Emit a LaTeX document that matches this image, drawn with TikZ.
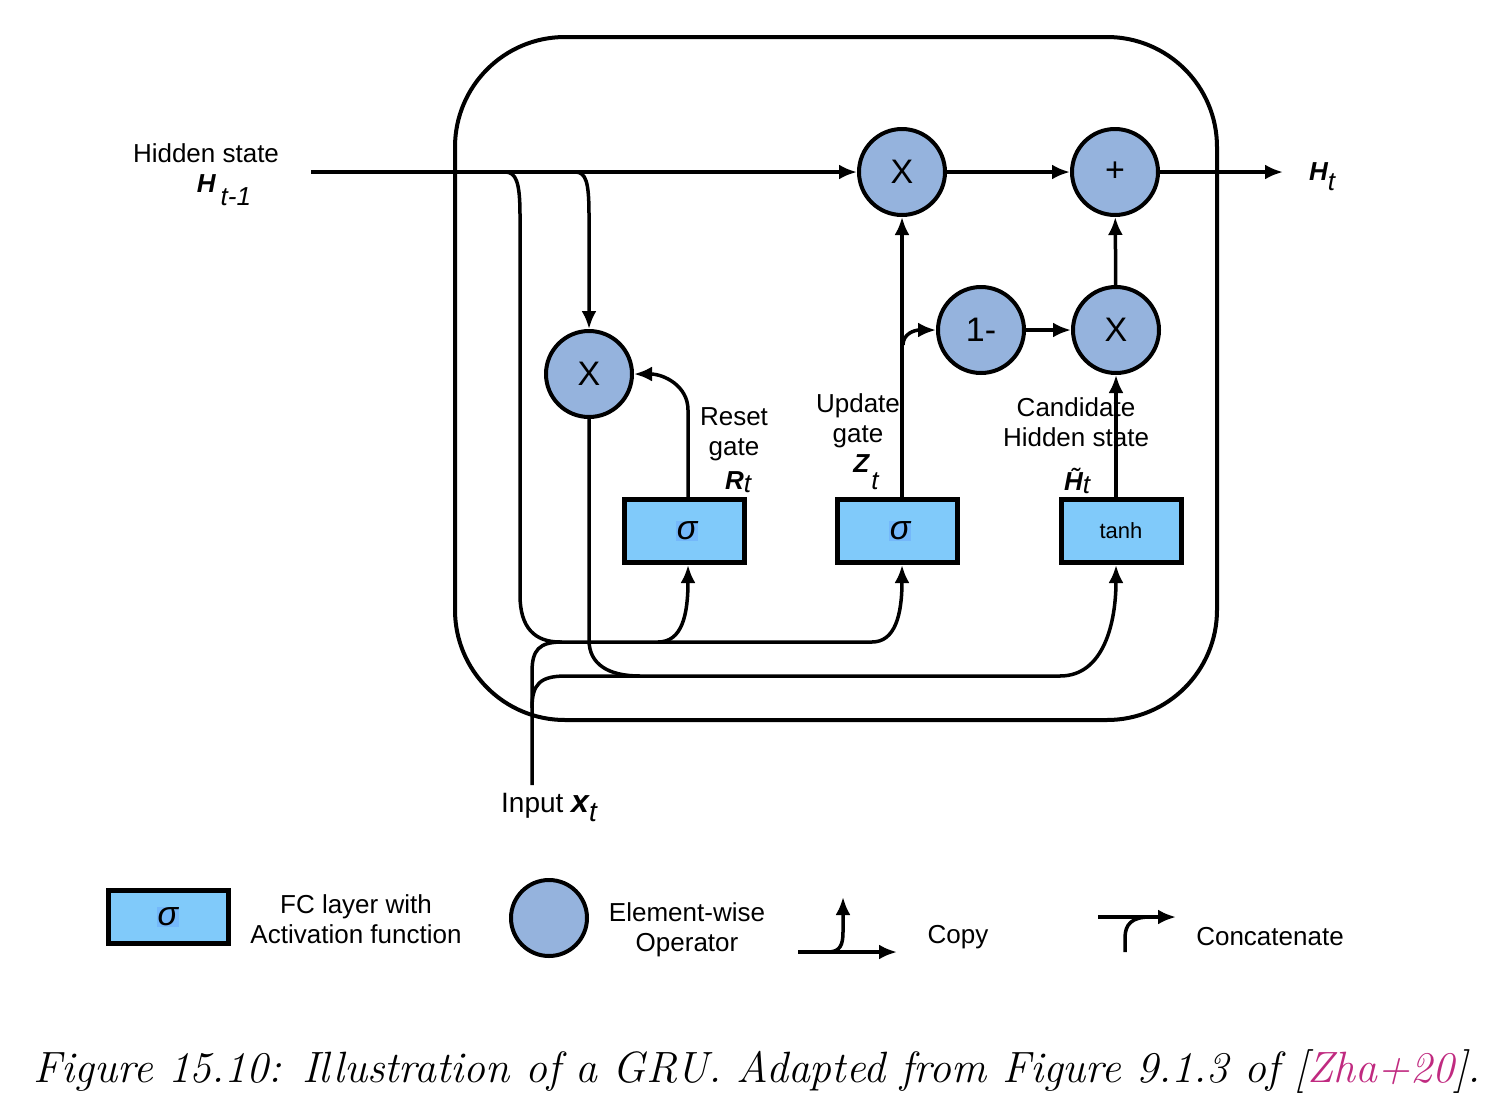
\documentclass[tikz,border=0pt]{standalone}
\usepackage{fontspec}
\newfontfamily\arialfont{Liberation Sans}
\usetikzlibrary{arrows.meta}
\definecolor{opblue}{RGB}{149,179,221}
\definecolor{fcblue}{RGB}{128,202,250}
\definecolor{sigblue}{RGB}{116,184,250}
\definecolor{citecol}{RGB}{192,42,128}
\newcommand{\lblfont}{\arialfont\fontsize{26}{30}\selectfont}
\newcommand{\opfont}{\arialfont\fontsize{34}{40}\selectfont}
\newcommand{\bvar}[1]{{\bfseries\itshape #1}}
\newcommand{\lowsub}[2]{\raisebox{-#1}{\itshape #2}}
\newcommand{\sigmark}{{\setlength{\fboxsep}{1pt}\colorbox{sigblue}{\itshape σ}}}

\begin{document}
\begin{tikzpicture}[x=1pt, y=-1pt,
        op/.style = {
            draw,
            circle,
            fill=opblue,
            line width=4pt,
            minimum size = #1,
            inner sep = 0pt,
            font=\opfont
        },
        op/.default = 86pt,
        fc/.style = {
            draw,
            rectangle,
            fill=fcblue,
            line width=5pt,
            minimum width = 120pt,
            minimum height = #1,
            inner sep = 0pt,
            font=\arialfont\fontsize{34}{38}\selectfont
        },
        fc/.default = 63pt,
        wire/.style = {line width=3.5pt},
        arr/.style = {wire, -{Latex[length=18pt, width=15pt]}},
        lbl/.style = {font=\lblfont, align=center, inner sep=0pt}
        ]
        \useasboundingbox (0,0) rectangle (1508,1114);
%
        \draw[line width=4pt, rounded corners=110pt] (455,37) rectangle (1217,720);
%
        \node[op] (mulH) at (902,172) {X};
        \node[op] (add)  at (1115,172) {+};
        \node[op] (mulR) at (589,374) {X};
        \node[op] (one)  at (981,330) {1-};
        \node[op] (mulZ) at (1116,330) {X};
%
        \node[fc] (gateR) at (684,531) {\hspace{6pt}\sigmark};
        \node[fc] (gateZ) at (897,531) {\hspace{6pt}\sigmark};
        \node[fc, font=\arialfont\fontsize{22}{26}\selectfont] (cand) at (1121,531) {tanh};
%
        \coordinate (hin)  at (311,172);
        \coordinate (hout) at (1283,172);
        \coordinate (xin)  at (532,785);
        \coordinate (cpyG) at (505,172);
        \coordinate (cpyR) at (575,172);
        \coordinate (tapR) at (658,642);
        \coordinate (tapZ) at (872,642);
        \coordinate (tapC) at (1060,676);
        \coordinate (tapU) at (903,345);
        \coordinate (inR)  at ([xshift=4pt]gateR.south);
        \coordinate (outR) at ([xshift=4pt]gateR.north);
%
        \node[lbl, anchor=south] (hidlbl) at (206,163) {Hidden state};
        \node[lbl] (hprev) at (224,190) {\bvar{H}\hspace{5pt}\lowsub{13pt}{t-1}};
        \node[lbl, anchor=west] (hnew) at (1309,177) {\bvar{H}\lowsub{10pt}{t}};
        \node[lbl, font=\arialfont\fontsize{28}{32}\selectfont] (xlbl) at (549,807)
            {Input {\fontsize{32}{36}\selectfont\bvar{x}}\lowsub{9pt}{t}};
%
        \node[lbl] (rlbl) at (734,434) {Reset\\gate};
        \node[lbl] (rvar) at (738,482) {\bvar{R}\lowsub{3pt}{t}};
        \node[lbl] (zlbl) at (858,421) {Update\\gate};
        \node[lbl] (zvar) at (866,472) {\bvar{Z}\hspace{2pt}\lowsub{17pt}{t}};
        \node[lbl] (clbl) at (1076,422) {Candidate\\Hidden state};
        \node[lbl] (cvar) at (1077,481) {\bvar{\~H}\lowsub{3pt}{t}};
%
% hidden state path
        \draw[arr] (hin) -- (mulH);
        \draw[arr] (mulH) -- (add);
        \draw[arr] (add) -- (hout);
%
% copies of H_{t-1}
        \draw[wire] (cpyG) .. controls (516,172) and (520,182) .. (520,215) -- (520,595)
                    .. controls (520,628) and (535,642) .. (560,642) -- (tapZ);
        \draw[arr] (cpyR) .. controls (586,172) and (589,182) .. (589,215) -- (mulR.north);
%
% input x_t
        \draw[wire] (xin) -- (532,672) .. controls (532,650) and (539,642) .. (562,642);
        \draw[wire] (532,708) .. controls (532,684) and (540,676) .. (566,676) -- (tapC);
%
% into the gates
        \draw[arr] (tapR) .. controls (682,642) and (688,615) .. (inR);
        \draw[arr] (tapZ) .. controls (895,642) and (902,615) .. (gateZ.south -| mulH);
        \draw[wire] (mulR.south) -- (589,640) .. controls (589,664) and (608,676) .. (640,676);
        \draw[arr] (tapC) .. controls (1104,676) and (1116,622) .. (cand.south -| mulZ);
%
% out of the gates
        \draw[arr] (outR) -- (688,410) .. controls (688,386) and (664,374) .. (mulR.east);
        \draw[arr] (gateZ.north -| mulH) -- (mulH.south);
        \draw[arr] (tapU) .. controls (903,334) and (914,330) .. (one.west);
        \draw[arr] (one) -- (mulZ);
        \draw[arr] (mulZ) -- (add);
        \draw[arr] (cand.north -| mulZ) -- (mulZ.south);
%
% legend
        \node[fc, minimum height=53pt] (legFC) at (168,917) {\sigmark};
        \node[lbl] (legFCtxt) at (356,919) {FC layer with\\Activation function};
        \node[op=76pt] (legOp) at (549,918) {};
        \node[lbl] (legOptxt) at (687,930) {Element-wise\\Operator};
%
        \coordinate (cpA) at (798,952);
        \coordinate (cpB) at (897,952);
        \coordinate (cpU) at (843,897);
        \draw[arr] (cpA) -- (cpB);
        \draw[arr] (828,952) .. controls (840,952) and (843,945) .. (843,932) -- (cpU);
        \node[lbl] (legCopy) at (958,937) {Copy};
%
        \coordinate (ccA) at (1098,917);
        \coordinate (ccB) at (1176,917);
        \coordinate (ccD) at (1125,952);
        \draw[arr] (ccA) -- (ccB);
        \draw[wire] (ccD) -- (1125,938) .. controls (1125,924) and (1132,917) .. (1150,917);
        \node[lbl] (legCat) at (1270,937) {Concatenate};
%
        \node[font=\fontsize{43.8}{50}\selectfont\itshape, inner sep=0pt] (caption) at (757,1072)
            {Figure 15.10: Illustration of a GRU. Adapted from Figure 9.1.3 of [\textcolor{citecol}{Zha+20}].};
\end{tikzpicture}
\end{document}
